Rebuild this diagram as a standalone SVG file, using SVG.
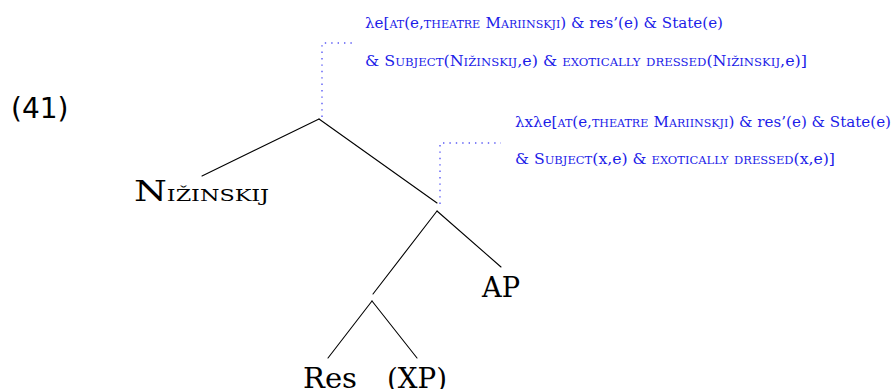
<svg xmlns="http://www.w3.org/2000/svg" width="893" height="389" viewBox="0 0 893 389">
  <style>
    .cat { font-family: "DejaVu Serif", "Liberation Serif", serif; font-size: 27px; fill: #000; }
    .sc { font-variant: small-caps; }
    .sem { font-family: "DejaVu Serif", "Liberation Serif", serif; font-size: 15px; fill: #1c1ce8; }
    .sem .sc { font-size: 16.3px; }
    .num { font-family: "DejaVu Sans", "Liberation Sans", sans-serif; font-size: 28px; fill: #000; }
    .edge { stroke: #000; stroke-width: 1.1; fill: none; stroke-linecap: round; }
    .dots { stroke: #5a5af5; stroke-width: 1.4; fill: none; stroke-dasharray: 1.4 5; }
  </style>
  <rect width="893" height="389" fill="#fff"/>

  <!-- example number -->
  <text id="ex-number" class="num" x="11" y="118">(41)</text>

  <!-- tree branches -->
  <g id="connectors">
    <line class="edge" x1="319" y1="119" x2="202" y2="176"/>
    <line class="edge" x1="319" y1="119" x2="437" y2="203"/>
    <line class="edge" x1="437" y1="211" x2="373" y2="294"/>
    <line class="edge" x1="437" y1="211" x2="501" y2="267"/>
    <line class="edge" x1="372" y1="301" x2="328" y2="358"/>
    <line class="edge" x1="372" y1="301" x2="417" y2="358"/>
  </g>

  <!-- leaves and labels -->
  <g id="node-nizinskij">
    <text class="cat" x="134" y="201" font-size="21" textLength="135" lengthAdjust="spacingAndGlyphs">N<tspan class="sc" font-size="23">ižinskij</tspan></text>
  </g>
  <g id="node-ap">
    <text class="cat" x="482" y="297" textLength="38" lengthAdjust="spacingAndGlyphs">AP</text>
  </g>
  <g id="node-res">
    <text class="cat" x="303" y="388" textLength="54" lengthAdjust="spacingAndGlyphs">Res</text>
  </g>
  <g id="node-xp">
    <text class="cat" x="387" y="388" textLength="60" lengthAdjust="spacingAndGlyphs">(XP)</text>
  </g>

  <!-- semantic annotation of the root -->
  <g id="ann-root">
    <path class="dots" d="M322 117 V43 H353"/>
    <text class="sem" x="365" y="28" textLength="358" lengthAdjust="spacingAndGlyphs">λe[<tspan class="sc">at</tspan>(e,<tspan class="sc">theatre </tspan>M<tspan class="sc">ariinskji</tspan>) &amp; res’(e) &amp; State(e)</text>
    <text class="sem" x="365" y="66" textLength="442" lengthAdjust="spacingAndGlyphs">&amp; S<tspan class="sc">ubject</tspan>(N<tspan class="sc">ižinskij</tspan>,e) &amp; <tspan class="sc">exotically dressed</tspan>(N<tspan class="sc">ižinskij</tspan>,e)]</text>
  </g>

  <!-- semantic annotation of the intermediate node -->
  <g id="ann-node2">
    <path class="dots" d="M440 204 V143 H501"/>
    <text class="sem" x="515" y="127" textLength="376" lengthAdjust="spacingAndGlyphs">λxλe[<tspan class="sc">at</tspan>(e,<tspan class="sc">theatre </tspan>M<tspan class="sc">ariinskji</tspan>) &amp; res’(e) &amp; State(e)</text>
    <text class="sem" x="515" y="164" textLength="320" lengthAdjust="spacingAndGlyphs">&amp; S<tspan class="sc">ubject</tspan>(x,e) &amp; <tspan class="sc">exotically dressed</tspan>(x,e)]</text>
  </g>
</svg>
